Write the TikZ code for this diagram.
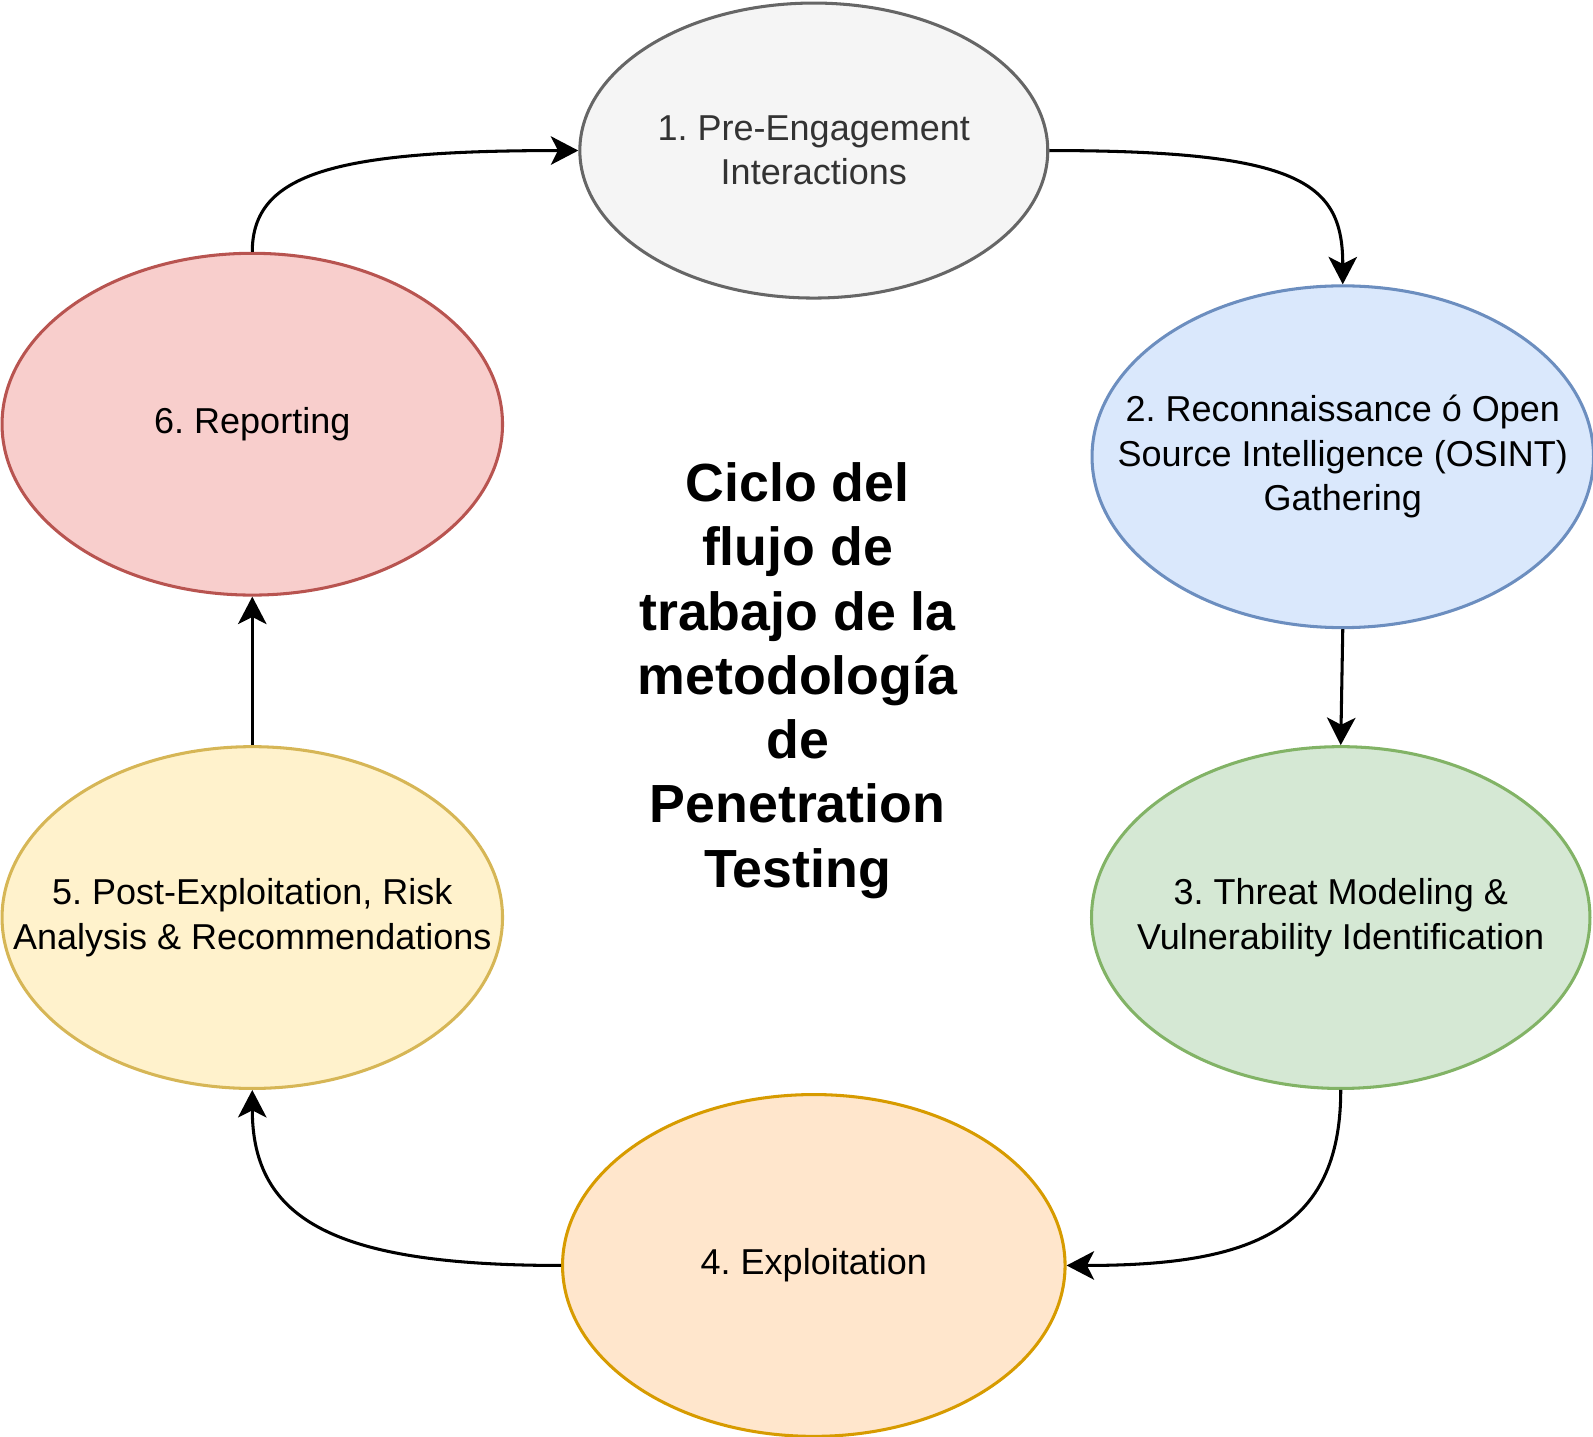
\documentclass[tikz,border=0pt]{standalone}
\usepackage{fontspec}
\setmainfont{Liberation Sans}
\usetikzlibrary{shapes.geometric,arrows.meta}
\frenchspacing
\definecolor{f1}{HTML}{F5F5F5}\definecolor{s1}{HTML}{666666}\definecolor{t1}{HTML}{333333}
\definecolor{f2}{HTML}{DAE8FC}\definecolor{s2}{HTML}{6C8EBF}
\definecolor{f3}{HTML}{D5E8D4}\definecolor{s3}{HTML}{82B366}
\definecolor{f4}{HTML}{FFE6CC}\definecolor{s4}{HTML}{D79B00}
\definecolor{f5}{HTML}{FFF2CC}\definecolor{s5}{HTML}{D6B656}
\definecolor{f6}{HTML}{F8CECC}\definecolor{s6}{HTML}{B85450}
\tikzset{
  phase/.style={ellipse,draw,line width=1.5pt,inner sep=0pt},
  lbl/.style={align=center,font=\frenchspacing\fontsize{17.7}{21.8}\selectfont},
  conn/.style={line width=1.5pt,-{Stealth[length=13.5pt,width=14pt,inset=3.5pt]}},
}
\begin{document}
\begin{tikzpicture}[x=0.5pt,y=-0.5pt]
\useasboundingbox (0,0) rectangle (1566,1412);
\node[phase,fill=f1,draw=s1,minimum width=230pt,minimum height=145pt,
  label={[lbl,text=t1]center:1. Pre-Engagement\\Interactions}] (n1) at (800,148) {};
\node[phase,fill=f2,draw=s2,minimum width=246.5pt,minimum height=168pt,
  label={[lbl]center:2. Reconnaissance ó Open\\Source Intelligence (OSINT)\\Gathering}] (n2) at (1320,449) {};
\node[phase,fill=f3,draw=s3,minimum width=245pt,minimum height=168pt,
  label={[lbl]center:3. Threat Modeling \&\\Vulnerability Identification}] (n3) at (1318,902) {};
\node[phase,fill=f4,draw=s4,minimum width=247pt,minimum height=168pt,
  label={[lbl]center:4. Exploitation}] (n4) at (800,1244) {};
\node[phase,fill=f5,draw=s5,minimum width=246pt,minimum height=168pt,
  label={[lbl]center:5. Post-Exploitation, Risk\\Analysis \& Recommendations}] (n5) at (248,902) {};
\node[phase,fill=f6,draw=s6,minimum width=246pt,minimum height=168pt,
  label={[lbl]center:6. Reporting}] (n6) at (248,417) {};
\node[align=center,font=\bfseries\fontsize{26.4}{31.6}\selectfont] (title) at (784,669)
  {Ciclo del\\flujo de\\trabajo de la\\metodología\\de\\Penetration\\Testing};
\draw[conn] (n1.east) .. controls (1280,148) and (1320,180) .. (n2.north);
\draw[conn] (n2.south) -- (n3.north);
\draw[conn] (n3.south) .. controls (1318,1210) and (1230,1244) .. (n4.east);
\draw[conn] (n4.west) .. controls (330,1244) and (248,1200) .. (n5.south);
\draw[conn] (n5.north) -- (n6.south);
\draw[conn] (n6.north) .. controls (248,170) and (330,148) .. (n1.west);
\end{tikzpicture}
\end{document}
